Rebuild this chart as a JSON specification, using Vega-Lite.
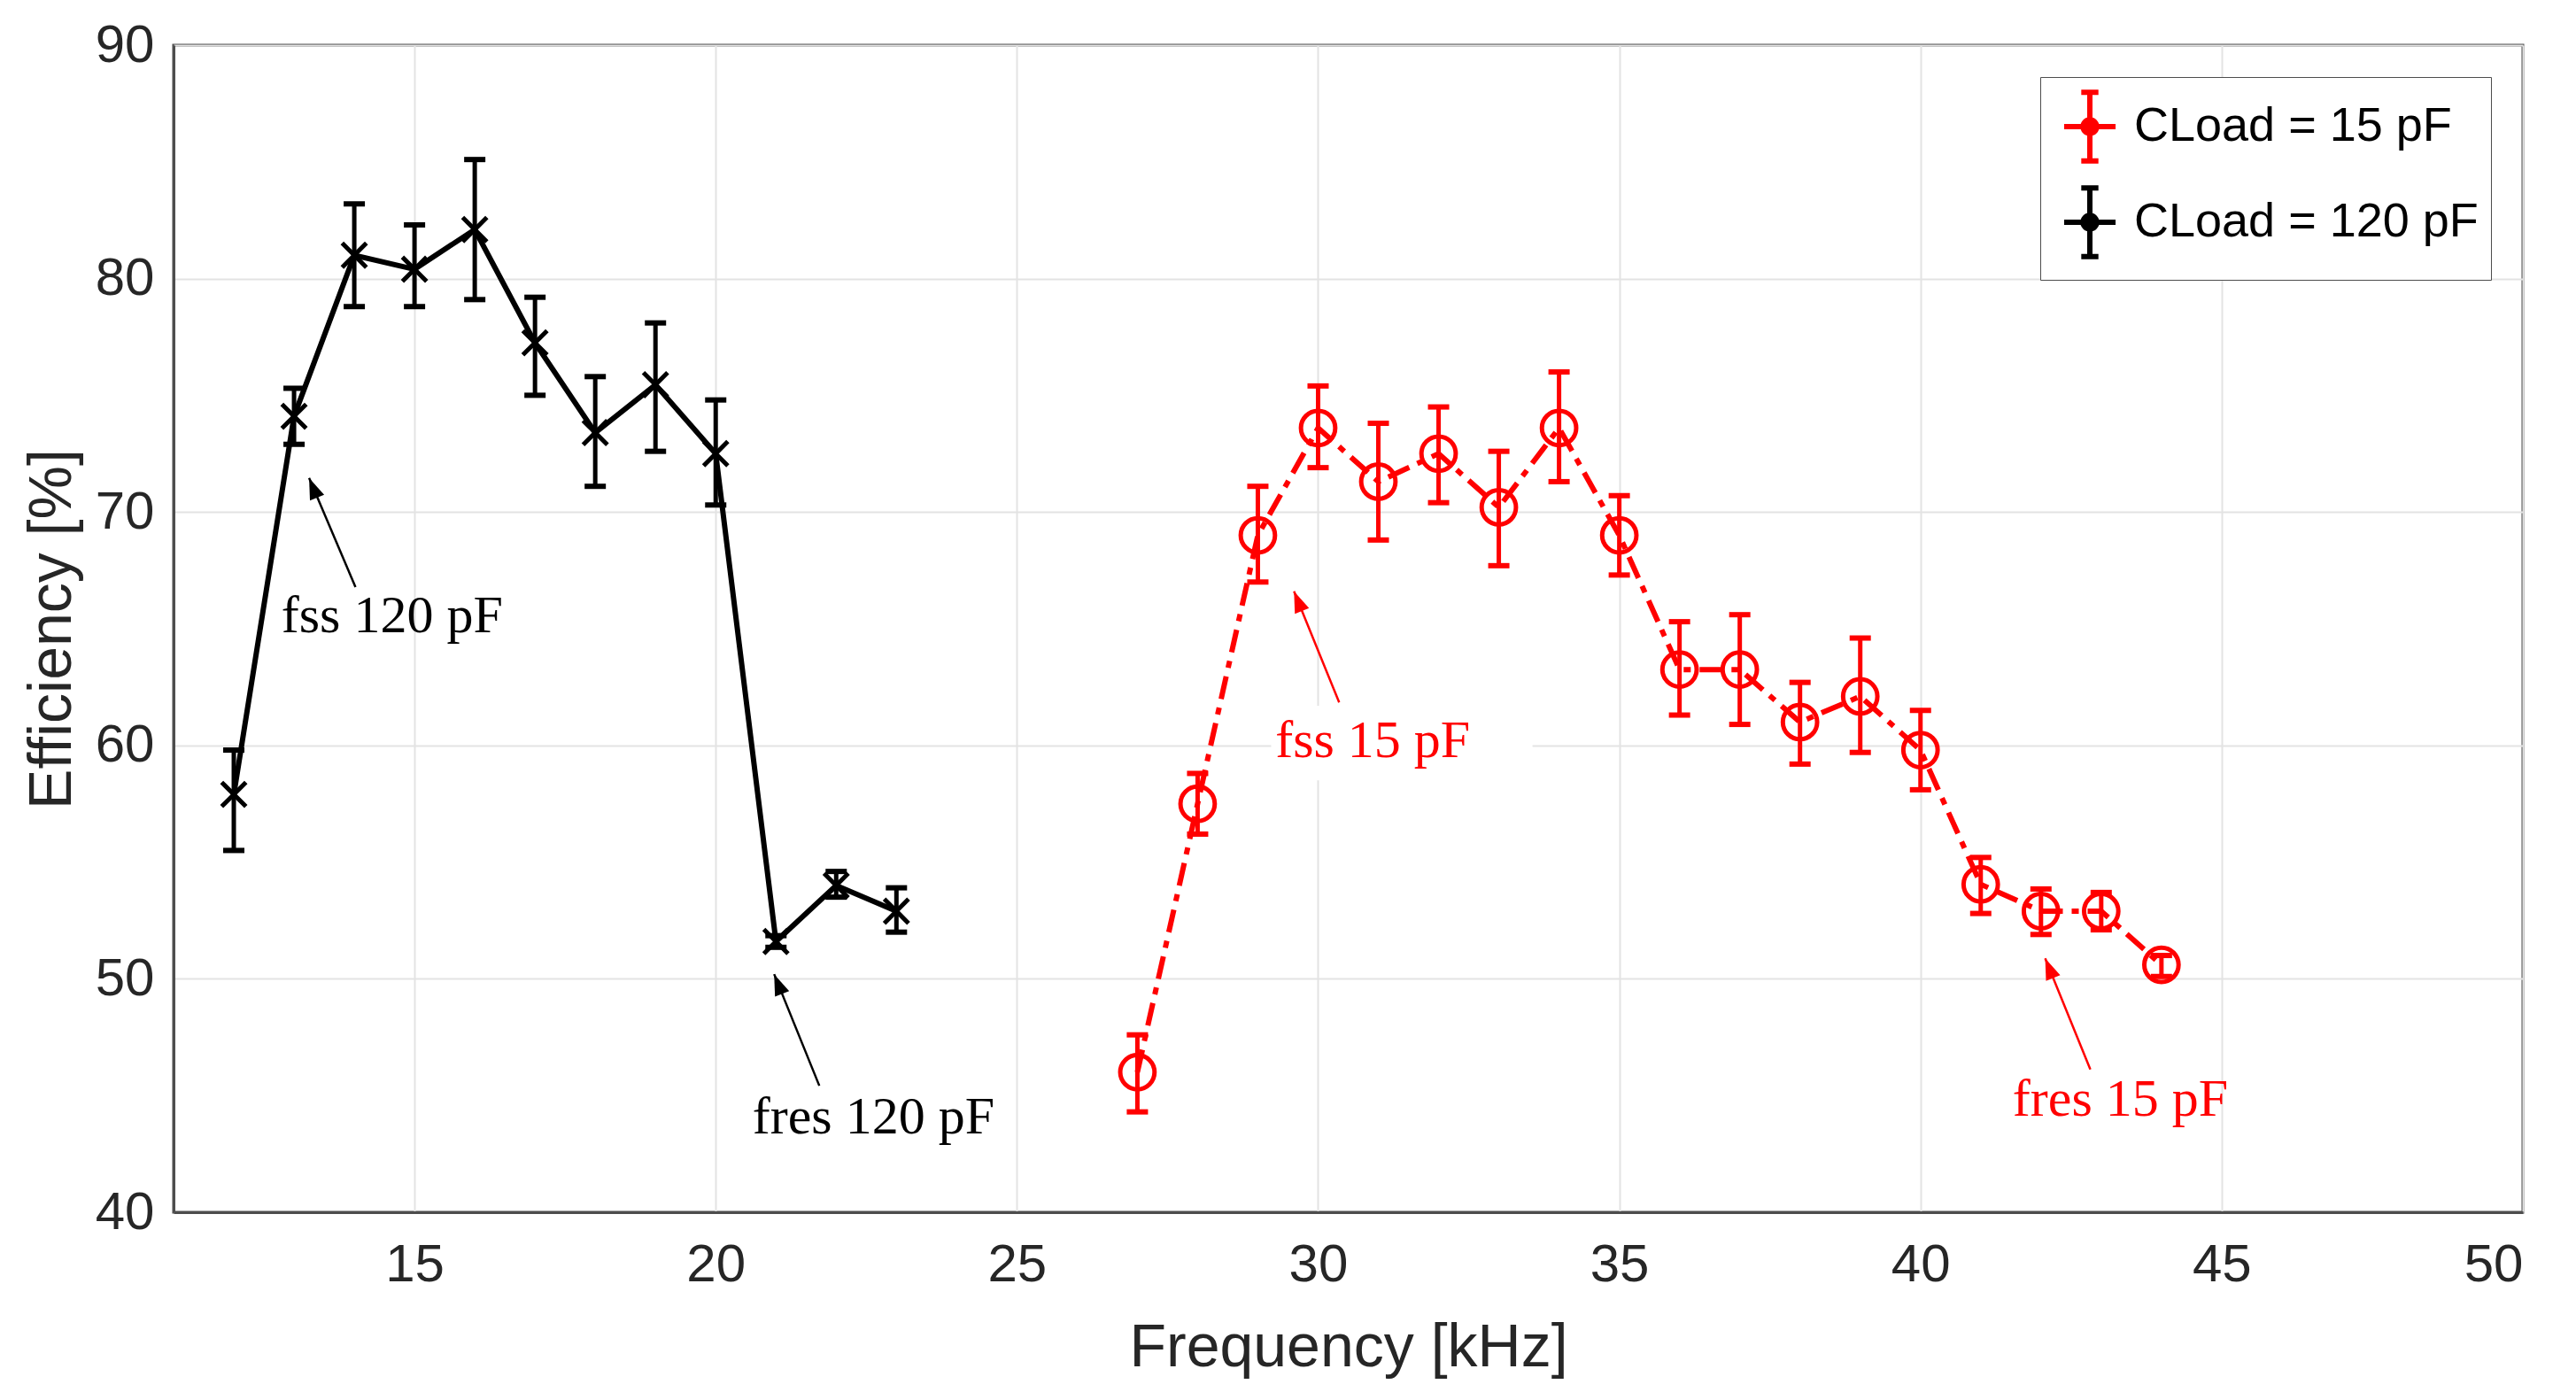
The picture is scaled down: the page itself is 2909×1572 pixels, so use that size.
{
  "$schema": "https://vega.github.io/schema/vega-lite/v6.json",
  "width": 2653,
  "height": 1318,
  "autosize": {"type": "none"},
  "padding": {"left": 196, "top": 51, "right": 60, "bottom": 203},
  "background": "white",
  "config": {
    "view": {"stroke": "#4d4d4d", "strokeWidth": 3},
    "axis": {
      "labelFont": "Liberation Sans",
      "labelFontSize": 60,
      "labelColor": "#262626",
      "titleFont": "Liberation Sans",
      "titleFontSize": 68,
      "titleFontWeight": "normal",
      "titleColor": "#262626",
      "gridColor": "#e3e3e3",
      "gridWidth": 2,
      "domainColor": "#4d4d4d",
      "domainWidth": 3,
      "ticks": false
    }
  },
  "datasets": {
    "points": [
      {"series": "CLoad = 120 pF", "f": 12, "eff": 57.9, "lo": 55.5, "hi": 59.8},
      {"series": "CLoad = 120 pF", "f": 13, "eff": 74.1, "lo": 72.9, "hi": 75.3},
      {"series": "CLoad = 120 pF", "f": 14, "eff": 81.0, "lo": 78.8, "hi": 83.2},
      {"series": "CLoad = 120 pF", "f": 15, "eff": 80.4, "lo": 78.8, "hi": 82.3},
      {"series": "CLoad = 120 pF", "f": 16, "eff": 82.1, "lo": 79.1, "hi": 85.1},
      {"series": "CLoad = 120 pF", "f": 17, "eff": 77.25, "lo": 75.0, "hi": 79.2},
      {"series": "CLoad = 120 pF", "f": 18, "eff": 73.4, "lo": 71.1, "hi": 75.8},
      {"series": "CLoad = 120 pF", "f": 19, "eff": 75.45, "lo": 72.6, "hi": 78.1},
      {"series": "CLoad = 120 pF", "f": 20, "eff": 72.5, "lo": 70.3, "hi": 74.8},
      {"series": "CLoad = 120 pF", "f": 21, "eff": 51.6, "lo": 51.35, "hi": 51.85},
      {"series": "CLoad = 120 pF", "f": 22, "eff": 54.0, "lo": 53.5, "hi": 54.6},
      {"series": "CLoad = 120 pF", "f": 23, "eff": 52.9, "lo": 52.0, "hi": 53.9},
      {"series": "CLoad = 15 pF", "f": 27, "eff": 46.0, "lo": 44.3, "hi": 47.6},
      {"series": "CLoad = 15 pF", "f": 28, "eff": 57.5, "lo": 56.2, "hi": 58.8},
      {"series": "CLoad = 15 pF", "f": 29, "eff": 69.0, "lo": 67.0, "hi": 71.1},
      {"series": "CLoad = 15 pF", "f": 30, "eff": 73.6, "lo": 71.9, "hi": 75.4},
      {"series": "CLoad = 15 pF", "f": 31, "eff": 71.3, "lo": 68.8, "hi": 73.8},
      {"series": "CLoad = 15 pF", "f": 32, "eff": 72.5, "lo": 70.4, "hi": 74.5},
      {"series": "CLoad = 15 pF", "f": 33, "eff": 70.2, "lo": 67.7, "hi": 72.6},
      {"series": "CLoad = 15 pF", "f": 34, "eff": 73.6, "lo": 71.3, "hi": 76.0},
      {"series": "CLoad = 15 pF", "f": 35, "eff": 69.0, "lo": 67.3, "hi": 70.7},
      {"series": "CLoad = 15 pF", "f": 36, "eff": 63.25, "lo": 61.3, "hi": 65.3},
      {"series": "CLoad = 15 pF", "f": 37, "eff": 63.25, "lo": 60.9, "hi": 65.6},
      {"series": "CLoad = 15 pF", "f": 38, "eff": 61.0, "lo": 59.2, "hi": 62.7},
      {"series": "CLoad = 15 pF", "f": 39, "eff": 62.1, "lo": 59.7, "hi": 64.6},
      {"series": "CLoad = 15 pF", "f": 40, "eff": 59.8, "lo": 58.1, "hi": 61.5},
      {"series": "CLoad = 15 pF", "f": 41, "eff": 54.05, "lo": 52.8, "hi": 55.2},
      {"series": "CLoad = 15 pF", "f": 42, "eff": 52.9, "lo": 51.9, "hi": 53.85},
      {"series": "CLoad = 15 pF", "f": 43, "eff": 52.9, "lo": 52.1, "hi": 53.7},
      {"series": "CLoad = 15 pF", "f": 44, "eff": 50.6, "lo": 50.1, "hi": 51.0}
    ],
    "notes": [
      {"series": "CLoad = 120 pF", "label": "fss 120 pF", "fx": 12.79, "fy": 64.85},
      {"series": "CLoad = 120 pF", "label": "fres 120 pF", "fx": 20.61, "fy": 43.38},
      {"series": "CLoad = 15 pF", "label": "fss 15 pF", "fx": 29.29, "fy": 59.49},
      {"series": "CLoad = 15 pF", "label": "fres 15 pF", "fx": 41.53, "fy": 44.14}
    ],
    "arrows": [
      {"series": "CLoad = 120 pF", "xa": 14.02, "ya": 66.78, "xb": 13.25, "yb": 71.46},
      {"series": "CLoad = 120 pF", "xa": 21.72, "ya": 45.42, "xb": 20.97, "yb": 50.2},
      {"series": "CLoad = 15 pF", "xa": 30.35, "ya": 61.84, "xb": 29.6, "yb": 66.6},
      {"series": "CLoad = 15 pF", "xa": 42.82, "ya": 46.12, "xb": 42.07, "yb": 50.88}
    ],
    "boxes": [
      {"xa": 29.22, "xb": 33.56, "ya": 58.5, "yb": 61.7}
    ]
  },
  "layer": [
    {
      "data": {"name": "boxes"},
      "mark": {"type": "rect", "fill": "white", "opacity": 1},
      "encoding": {
        "x": {"field": "xa", "type": "quantitative", "scale": {"domain": [11, 50], "nice": false, "zero": false},
          "axis": {"title": "Frequency [kHz]", "values": [15, 20, 25, 30, 35, 40, 45, 50], "format": "d", "labelPadding": 30, "titlePadding": 30, "grid": true}},
        "x2": {"field": "xb"},
        "y": {"field": "ya", "type": "quantitative", "scale": {"domain": [40, 90], "nice": false, "zero": false},
          "axis": {"title": "Efficiency [%]", "values": [40, 50, 60, 70, 80, 90], "format": "d", "labelPadding": 22, "titlePadding": 14, "grid": true}},
        "y2": {"field": "yb"}
      }
    },
    {
      "data": {"name": "points"},
      "mark": {"type": "rule", "strokeWidth": 5, "opacity": 1},
      "encoding": {
        "x": {"field": "f", "type": "quantitative"},
        "y": {"field": "lo", "type": "quantitative"},
        "y2": {"field": "hi"},
        "color": {"field": "series", "type": "nominal"}
      }
    },
    {
      "data": {"name": "points"},
      "mark": {"type": "tick", "orient": "horizontal", "size": 24, "thickness": 6, "opacity": 1},
      "encoding": {
        "x": {"field": "f", "type": "quantitative"},
        "y": {"field": "lo", "type": "quantitative"},
        "color": {"field": "series", "type": "nominal"}
      }
    },
    {
      "data": {"name": "points"},
      "mark": {"type": "tick", "orient": "horizontal", "size": 24, "thickness": 6, "opacity": 1},
      "encoding": {
        "x": {"field": "f", "type": "quantitative"},
        "y": {"field": "hi", "type": "quantitative"},
        "color": {"field": "series", "type": "nominal"}
      }
    },
    {
      "data": {"name": "points"},
      "transform": [{"filter": "datum.series === 'CLoad = 120 pF'"}],
      "mark": {"type": "line", "strokeWidth": 6, "opacity": 1},
      "encoding": {
        "x": {"field": "f", "type": "quantitative"},
        "y": {"field": "eff", "type": "quantitative"},
        "color": {
          "field": "series", "type": "nominal",
          "scale": {"domain": ["CLoad = 15 pF", "CLoad = 120 pF"], "range": ["#ff0000", "#000000"]},
          "legend": {
            "title": null,
            "orient": "top-right",
            "offset": 36,
            "strokeColor": "#4d4d4d",
            "fillColor": "white",
            "padding": 14,
            "labelFont": "Liberation Sans",
            "labelFontSize": 54,
            "labelColor": "#000000",
            "labelLimit": 0,
            "labelOffset": 8,
            "rowPadding": 6,
            "symbolType": "M-0.75,0H0.75M0,-1V1M-0.25,-1H0.25M-0.25,1H0.25M0.2,0A0.2,0.2 0 1,1 -0.2,0A0.2,0.2 0 1,1 0.2,0",
            "symbolSize": 6000,
            "symbolStrokeWidth": 6,
            "symbolOpacity": 1
          }
        }
      }
    },
    {
      "data": {"name": "points"},
      "transform": [{"filter": "datum.series === 'CLoad = 15 pF'"}],
      "mark": {"type": "line", "strokeWidth": 6, "strokeDash": [26, 10, 8, 10], "opacity": 1},
      "encoding": {
        "x": {"field": "f", "type": "quantitative"},
        "y": {"field": "eff", "type": "quantitative"},
        "color": {"field": "series", "type": "nominal"}
      }
    },
    {
      "data": {"name": "points"},
      "transform": [{"filter": "datum.series === 'CLoad = 15 pF'"}],
      "mark": {"type": "point", "shape": "circle", "filled": false, "strokeWidth": 5, "size": 1500, "opacity": 1},
      "encoding": {
        "x": {"field": "f", "type": "quantitative"},
        "y": {"field": "eff", "type": "quantitative"},
        "color": {"field": "series", "type": "nominal"}
      }
    },
    {
      "data": {"name": "points"},
      "transform": [{"filter": "datum.series === 'CLoad = 120 pF'"}],
      "mark": {"type": "point", "shape": "M-1,-1L1,1M1,-1L-1,1", "filled": false, "strokeWidth": 5, "size": 750, "opacity": 1},
      "encoding": {
        "x": {"field": "f", "type": "quantitative"},
        "y": {"field": "eff", "type": "quantitative"},
        "color": {"field": "series", "type": "nominal"}
      }
    },
    {
      "data": {"name": "arrows"},
      "mark": {"type": "rule", "strokeWidth": 2.5, "opacity": 1},
      "encoding": {
        "x": {"field": "xa", "type": "quantitative"},
        "y": {"field": "ya", "type": "quantitative"},
        "x2": {"field": "xb"},
        "y2": {"field": "yb"},
        "color": {"field": "series", "type": "nominal"}
      }
    },
    {
      "data": {"name": "arrows"},
      "mark": {"type": "point", "shape": "M0,0L-0.36,1L0.36,1Z", "filled": true, "size": 2300, "angle": -22, "opacity": 1},
      "encoding": {
        "x": {"field": "xb", "type": "quantitative"},
        "y": {"field": "yb", "type": "quantitative"},
        "color": {"field": "series", "type": "nominal"}
      }
    },
    {
      "data": {"name": "notes"},
      "mark": {"type": "text", "font": "Liberation Serif", "fontSize": 60, "align": "left", "baseline": "alphabetic"},
      "encoding": {
        "x": {"field": "fx", "type": "quantitative"},
        "y": {"field": "fy", "type": "quantitative"},
        "text": {"field": "label"},
        "color": {"field": "series", "type": "nominal"}
      }
    }
  ]
}
